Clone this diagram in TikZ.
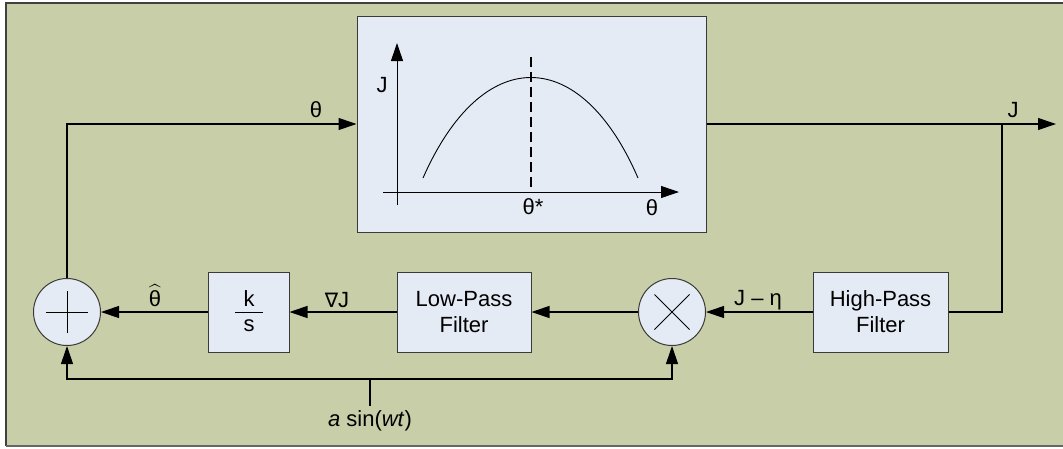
\documentclass[tikz,border=0pt]{standalone}
\usepackage{fontspec}
\usepackage{amsmath}
\setmainfont{Liberation Sans}
\newfontfamily\dejavu{DejaVu Sans}
\usetikzlibrary{arrows.meta}
\definecolor{bgolive}{HTML}{C8CFA8}
\definecolor{boxfill}{HTML}{E5EBF5}
\definecolor{edge}{HTML}{3A3A3A}
\tikzset{
  blockbox/.style={draw=edge, fill=boxfill, line width=1pt, inner sep=0pt, align=center,
    font=\fontsize{22}{26}\selectfont},
  junction/.style={draw=edge, fill=boxfill, line width=1pt, circle, minimum size=67pt, inner sep=0pt},
  wire/.style={line width=1.1pt, draw=black},
  sig/.style={wire, -{Triangle[length=18pt,width=12pt]}},
  lbl/.style={font=\fontsize{22}{26}\selectfont, inner sep=0pt}
}
\begin{document}
\begin{tikzpicture}[x=1pt,y=-1pt]
\useasboundingbox (0,0) rectangle (1063,448);
\fill[bgolive] (6,3) rectangle (1075,446);
\draw[black!75, line width=2pt] (6,446) -- (6,3) -- (1075,3);
\draw[black!60, line width=2pt] (6,446) -- (1075,446);

% plant box
\node[blockbox, minimum width=349pt, minimum height=216pt] (plant) at (531.5,124) {};
% inner graph
\coordinate (vb) at (397,205);
\coordinate (vt) at (397,43);
\coordinate (hl) at (383,192);
\coordinate (hr) at (679,192);
\draw[sig, line width=1pt] (vb) -- (vt);
\draw[sig, line width=1pt] (hl) -- (hr);
\draw[line width=0.9pt] (423,178) .. controls (482,44) and (580,44) .. (638,178);
\draw[line width=1.1pt, dash pattern=on 10pt off 5pt] (531,57) -- (531,192);
\node[lbl] (lJ) at (382,85) {J};
\node[lbl] (lts) at (533,207) {θ*};
\node[lbl] (lt) at (652,208) {θ};

% bottom row
\node[junction] (sum) at (67,312) {};
\draw[line width=1pt] ([xshift=-21pt]sum.center) -- ([xshift=21pt]sum.center);
\draw[line width=1pt] ([yshift=-21pt]sum.center) -- ([yshift=21pt]sum.center);
\node[blockbox, minimum width=81pt, minimum height=80pt] (ks) at (248.5,312) {};
\draw[line width=1pt] (235,312) -- (263,312);
\node[lbl] (kk) at (249,299) {k};
\node[lbl] (ss) at (249,326) {s};
\node[blockbox, minimum width=134pt, minimum height=80pt] (lpf) at (464,312) {Low-Pass\\Filter};
\node[junction] (mult) at (672,312) {};
\draw[line width=1pt] ([shift={(-17.5pt,-17.5pt)}]mult.center) -- ([shift={(17.5pt,17.5pt)}]mult.center);
\draw[line width=1pt] ([shift={(-17.5pt,17.5pt)}]mult.center) -- ([shift={(17.5pt,-17.5pt)}]mult.center);
\node[blockbox, minimum width=135pt, minimum height=80pt] (hpf) at (880.5,312) {High-Pass\\Filter};

% connectors
\coordinate (jout) at (1056,124);
\coordinate (tapJ) at (1002,124);
\coordinate (tl) at (67,124);
\coordinate (fb) at (370,379);
\coordinate (src) at (370,406);
\draw[sig] (plant.east) -- (jout);
\draw[wire] (tapJ) |- (hpf.east);
\draw[sig] (hpf.west) -- (mult.east);
\draw[sig] (mult.west) -- (lpf.east);
\draw[sig] (lpf.west) -- (ks.east);
\draw[sig] (ks.west) -- (sum.east);
\draw[sig] (sum.north) -- (tl) -- (plant.west);
\draw[wire] (src) -- (fb);
\draw[sig] (fb) -| (sum.south);
\draw[sig] (fb) -| (mult.south);

% labels
\node[lbl] (lth) at (316,110) {θ};
\node[lbl] (lJout) at (1013,110) {J};
\node[lbl] (lthat) at (155,296) {$\widehat{\text{θ}}$};
\node[lbl] (lgrad) at (337,300) {{\dejavu\fontsize{20}{24}\selectfont ∇}J};
\node[lbl] (ljeta) at (758,300) {J – η};
\node[lbl] (lasin) at (370,421) {\textit{a} sin(\textit{wt})};
\end{tikzpicture}
\end{document}
